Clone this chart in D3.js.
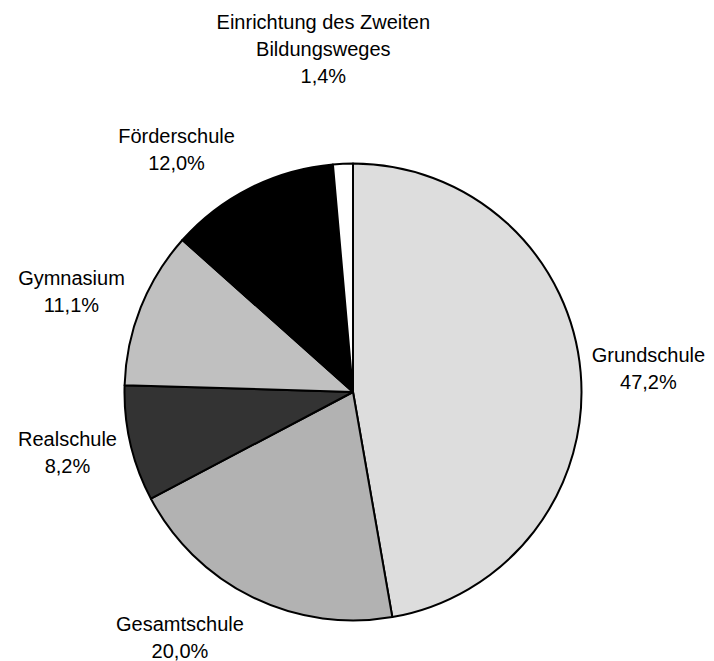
<!DOCTYPE html>
<html>
<head>
<meta charset="utf-8">
<script src="https://cdn.jsdelivr.net/npm/d3@7/dist/d3.min.js"></script>
<style>
  body { margin: 0; background: #fff; }
  text { font-family: "Liberation Sans", Arial, sans-serif; font-size: 20px; fill: #000; }
</style>
</head>
<body>
<div id="pie-container"></div>
<script>
//data
var pieCategories = ['Grundschule', 'Gesamtschule', 'Realschule', 'Gymnasium', 'Förderschule', 'Einrichtung des Zweiten Bildungsweges'];
var pieLabelLines = [['Grundschule'], ['Gesamtschule'], ['Realschule'], ['Gymnasium'], ['Förderschule'], ['Einrichtung des Zweiten', 'Bildungsweges']];
var pieValues = [47.2, 20.0, 8.2, 11.1, 12.0, 1.4];
var pieColors = ['#dddddd', '#b2b2b2', '#333333', '#c0c0c0', '#000000', '#ffffff'];

//sizes
var pieW = 714,
    pieH = 661,
    pieCx = 353,
    pieCy = 392,
    pieR = 228.5,
    labelR = pieR + 60,
    lineH = 27;

//hand-moved labels (like the original layout)
var labelNudge = {
    'Grundschule': [8, 1.5],
    'Gesamtschule': [-46, -13.5],
    'Realschule': [-4.5, -4.5],
    'Gymnasium': [-13.5, 6.5],
    'Förderschule': [-47, 15.5],
    'Einrichtung des Zweiten Bildungsweges': [-17, -55]
};

var pieData = pieCategories.map(function(c, i) {
    return { name: c, lines: pieLabelLines[i], value: pieValues[i], color: pieColors[i] };
});

var pieSvg = d3.select('#pie-container').append('svg')
    .attr('width', pieW)
    .attr('height', pieH);

var pieG = pieSvg.append('g')
    .attr('transform', 'translate(' + pieCx + ',' + pieCy + ')');

var pie = d3.pie()
    .sort(null)
    .value(function(d) { return d.value; });

var arc = d3.arc().innerRadius(0).outerRadius(pieR);
var labelArc = d3.arc().innerRadius(labelR).outerRadius(labelR);

var arcs = pie(pieData);

pieG.selectAll('.pie-slice')
    .data(arcs)
    .enter()
    .append('path')
    .attr('class', 'pie-slice')
    .attr('d', arc)
    .attr('fill', function(d) { return d.data.color; })
    .attr('stroke', '#000')
    .attr('stroke-width', 2)
    .attr('stroke-linejoin', 'round');

var labels = pieG.selectAll('.pie-label')
    .data(arcs)
    .enter()
    .append('text')
    .attr('class', 'pie-label')
    .attr('text-anchor', 'middle');

labels.each(function(d) {
    var c = labelArc.centroid(d),
        n = labelNudge[d.data.name] || [0, 0],
        x = c[0] + n[0],
        y = c[1] + n[1];
    var lines = d.data.lines.concat([d3.format('.1f')(d.data.value).replace('.', ',') + '%']);
    var firstY = y - (lines.length - 1) * lineH / 2 + 7;
    var t = d3.select(this);
    lines.forEach(function(l, i) {
        t.append('tspan')
            .attr('x', x)
            .attr('y', firstY + i * lineH)
            .text(l);
    });
});
</script>
</body>
</html>
